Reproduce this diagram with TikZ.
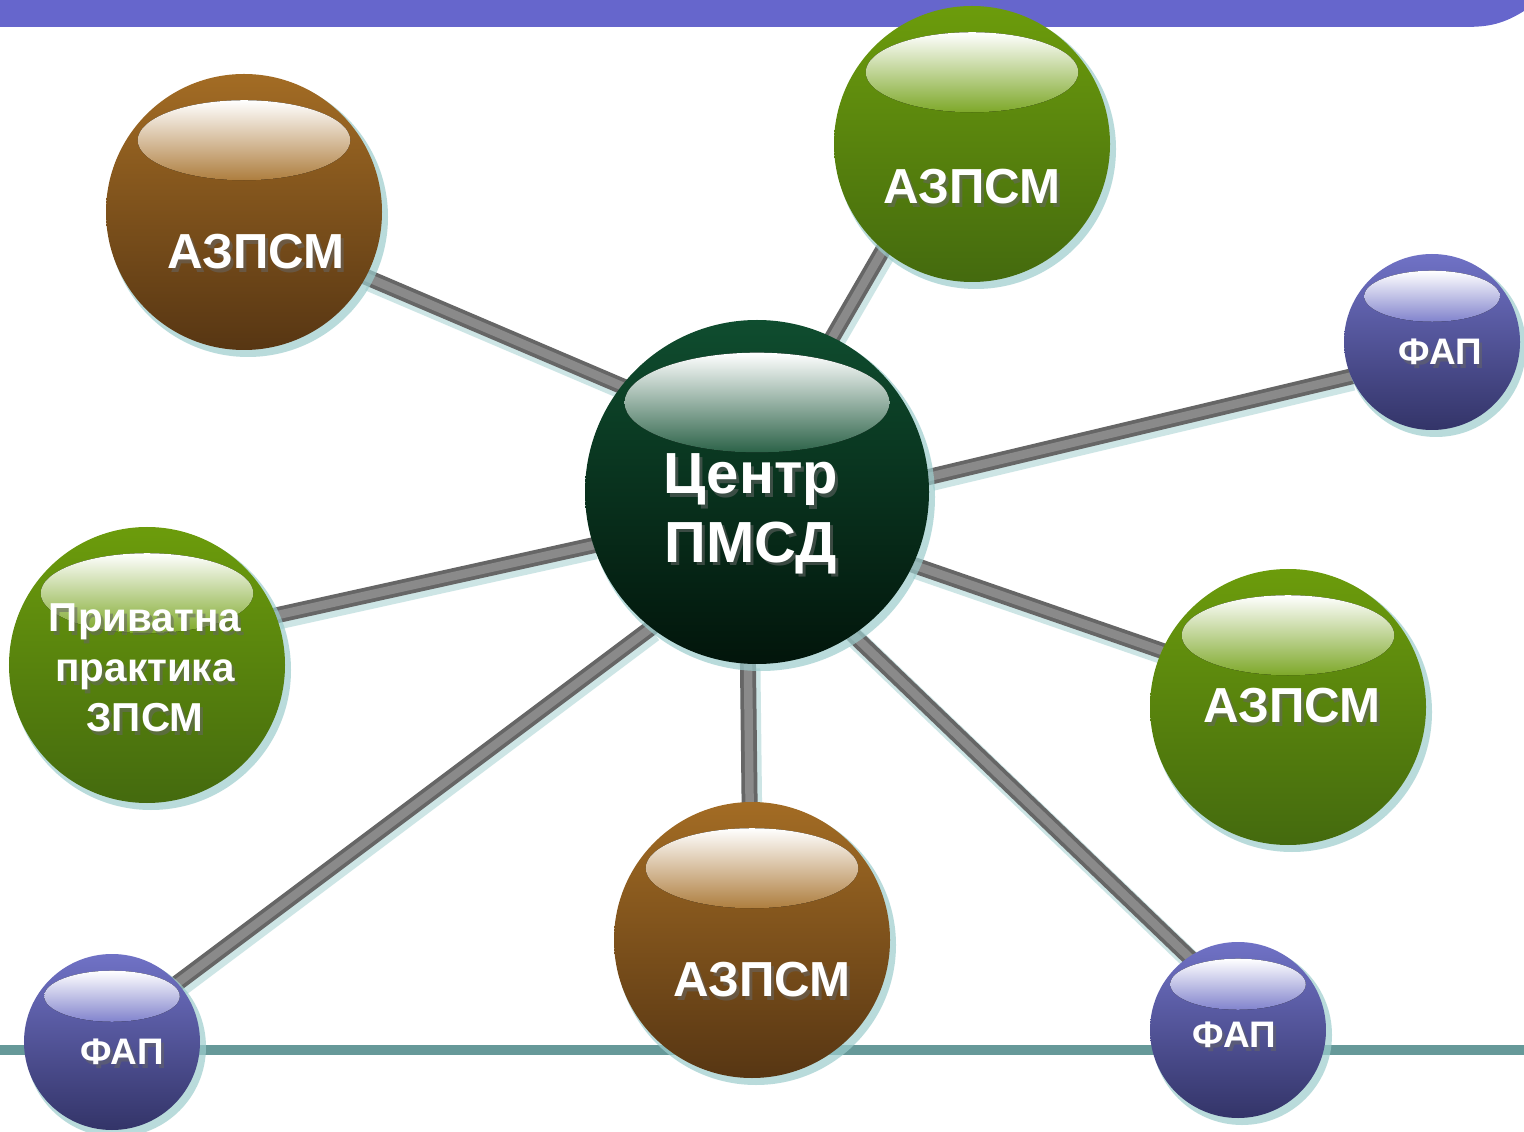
\documentclass[tikz,border=0pt]{standalone}
\usepackage{fontspec}
\setmainfont{Liberation Sans}
\usetikzlibrary{backgrounds}
\definecolor{brT}{HTML}{A36C24}
\definecolor{brB}{HTML}{573613}
\definecolor{grT}{HTML}{6C9C0C}
\definecolor{grB}{HTML}{446A0E}
\definecolor{dgT}{HTML}{0F4D2F}
\definecolor{dgB}{HTML}{02150B}
\definecolor{blT}{HTML}{7072C6}
\definecolor{blB}{HTML}{333468}
\definecolor{topbar}{HTML}{6666CC}
\definecolor{rulec}{HTML}{669999}
\definecolor{glowc}{HTML}{9CCDCD}
\begin{document}
\begin{tikzpicture}[
    ball/.style={circle, inner sep=0pt, top color=#1T, bottom color=#1B},
    shine/.style={top color=white, bottom color=#1T!88!white},
    glow/.style={fill=glowc, opacity=0.7},
    lbl/.style={text=white, align=center, inner sep=0pt},
    lblsh/.style={text=black!60, opacity=0.55, align=center, inner sep=0pt},
    szA/.style={font=\bfseries\fontsize{16.5}{19.5}\selectfont},
    szB/.style={font=\bfseries\fontsize{14}{16}\selectfont},
    szC/.style={font=\bfseries\fontsize{11.5}{14.2}\selectfont},
    szD/.style={font=\bfseries\fontsize{10.5}{12}\selectfont},
    tube/.style={line width=0.16cm, draw=black!60, shorten <=-0.15cm, shorten >=-0.15cm},
    tubecore/.style={line width=0.085cm, draw=black!46, shorten <=-0.15cm, shorten >=-0.15cm},
    tubesh/.style={line width=0.2cm, draw=glowc, opacity=0.5}
  ]
  \useasboundingbox (0,0) rectangle (15.24,11.31);
  \def \Nodes{
    c/7.57/6.39/1.72/dg/-0.06/-0.22/szA/{Центр\\ПМСД},
    a1/2.44/9.19/1.38/br/0.12/-0.40/szB/АЗПСМ,
    a2/9.72/9.87/1.38/gr/0.00/-0.43/szB/АЗПСМ,
    f1/14.32/7.89/0.88/bl/0.08/-0.10/szD/ФАП,
    p/1.47/4.66/1.38/gr/-0.02/-0.03/szC/{Приватна\\практика\\ЗПСМ},
    a3/12.88/4.24/1.38/gr/0.04/0.01/szB/АЗПСМ,
    a4/7.52/1.91/1.38/br/0.10/-0.40/szB/АЗПСМ,
    f2/1.12/0.89/0.88/bl/0.10/-0.10/szD/ФАП,
    f3/12.38/1.01/0.88/bl/-0.04/-0.05/szD/ФАП}
  \def \Edges{
    a1/142.5/-28,
    a2/64.8/230.5,
    f1/5.6/203,
    p/198.2/21.3,
    a3/-25.4/156.7,
    a4/267.7/91,
    f2/232.6/42.7,
    f3/304.4/124.4}
  \foreach \id / \x / \y / \r / \col / \dx / \dy / \sz / \lb in \Nodes{
    \fill[glow] ({\x+0.04}, {\y-0.05}) circle ({\r+0.02});
    \node[ball=\col, minimum size={2*\r cm}] (\id) at (\x, \y) {};
    \fill[shine=\col] (\x, {\y+0.52*\r}) ellipse ({0.77*\r} and {0.29*\r});
    \node[lblsh, \sz] at ({\x+\dx+0.03}, {\y+\dy-0.035}) {\lb};
    \node[lbl, \sz] (\id-t) at ({\x+\dx}, {\y+\dy}) {\lb};
  }
  \begin{scope}[on background layer]
    \fill[white] (0,0) rectangle (15.24,11.31);
    \fill[topbar] (0,11.31) -- (15.24,11.31) -- (15.24,11.2)
      .. controls (15.0,11.05) and (14.85,11.04) .. (14.6,11.04) -- (0,11.04) -- cycle;
    \draw[rulec, line width=0.1cm] (0,0.81) -- (15.24,0.81);
    \foreach \n / \ac / \ao in \Edges{
      \draw[tubesh, transform canvas={shift={(0.025,-0.04)}}] (c.\ac) -- (\n.\ao);
      \draw[tube] (c.\ac) -- (\n.\ao);
      \draw[tubecore] (c.\ac) -- (\n.\ao);
    }
  \end{scope}
\end{tikzpicture}
\end{document}
